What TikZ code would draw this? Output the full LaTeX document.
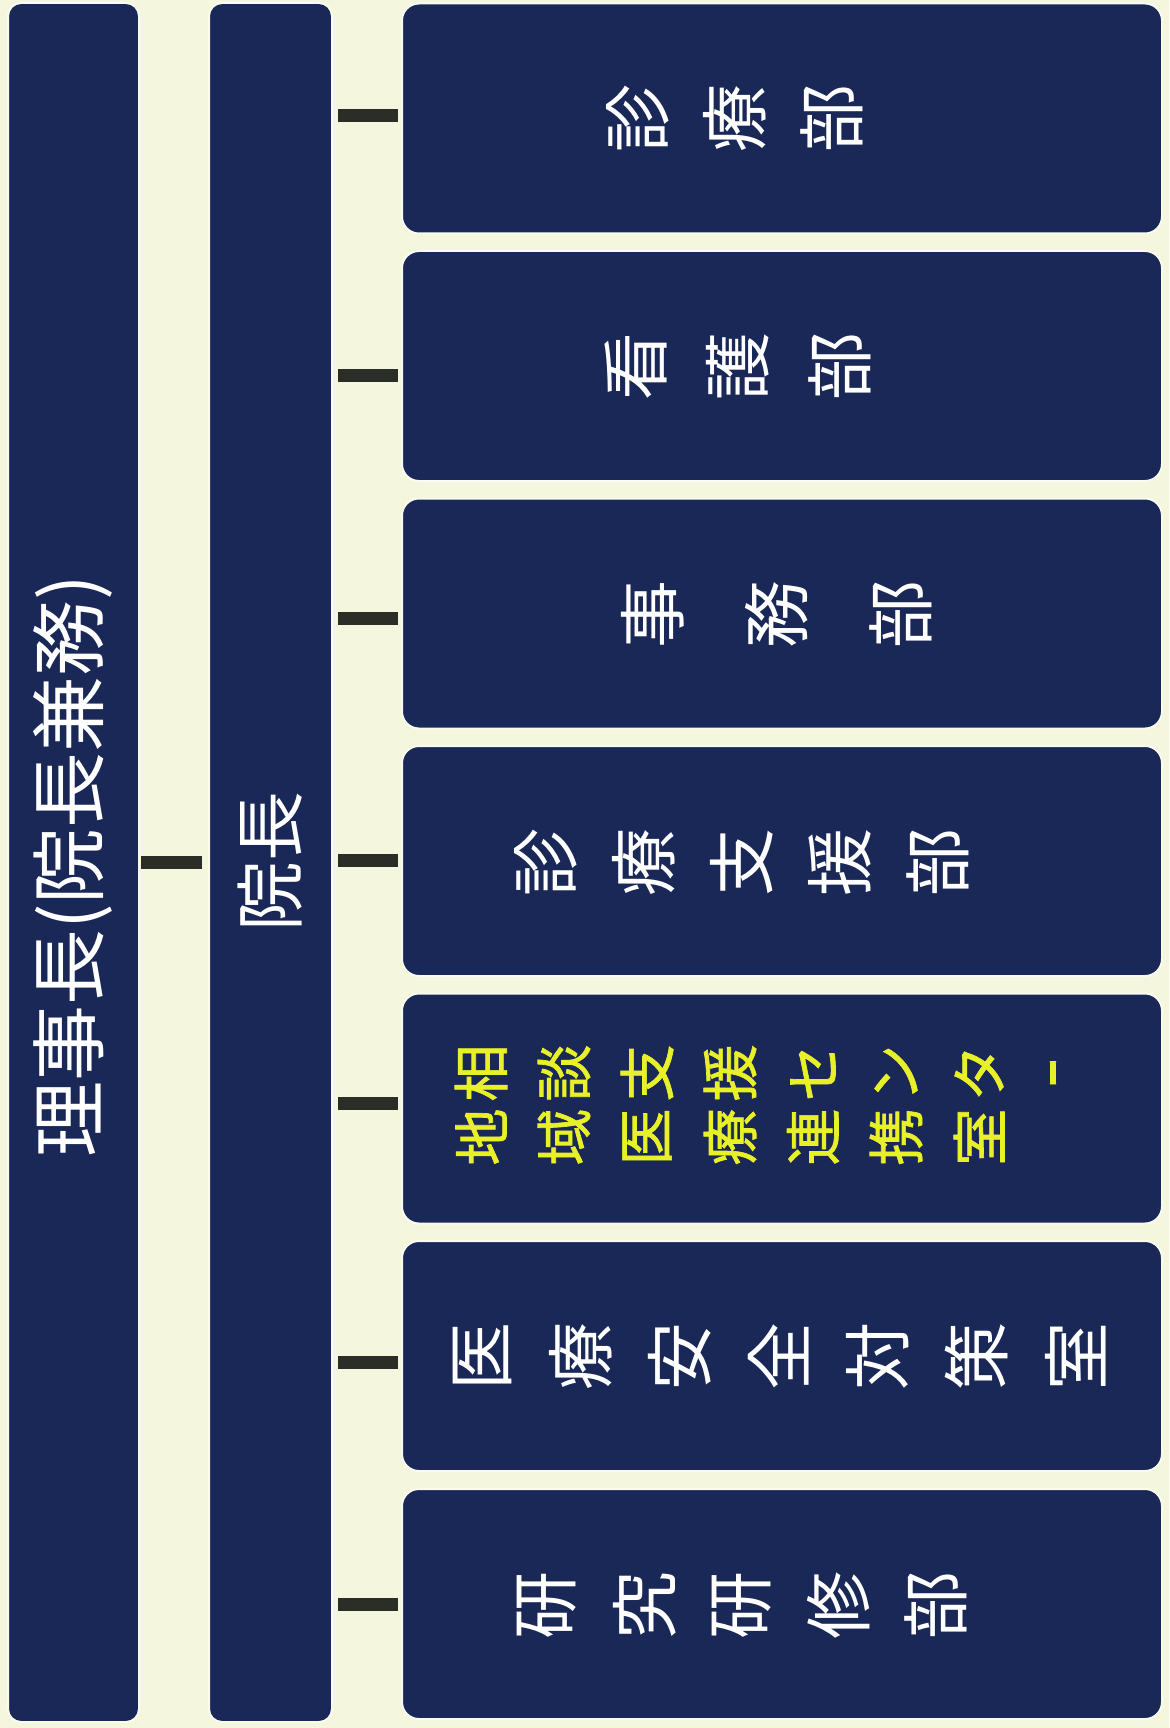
\documentclass[tikz,border=0pt]{standalone}
\usepackage{fontspec}
\setmainfont{Noto Sans CJK JP}
\newfontfamily\yfont[FakeBold=1.2]{Noto Sans CJK JP}
\usepackage{tikz}
\usetikzlibrary{calc}
\definecolor{navy}{RGB}{26,40,88}
\definecolor{cream}{RGB}{244,247,222}
\definecolor{halo}{RGB}{250,251,240}
\definecolor{linkgray}{RGB}{42,46,38}
\definecolor{txtyellow}{RGB}{232,240,40}

\begin{document}
\begin{tikzpicture}[x=1pt,y=-1pt,
		bar/.style={fill=navy,draw=halo,line width=2pt,rounded corners=13pt,inner sep=0pt,minimum height=1719pt},
		dept/.style={fill=navy,draw=halo,line width=2pt,rounded corners=17pt,inner sep=0pt,minimum width=760pt,minimum height=230pt},
		link/.style={draw=linkgray,line width=13pt},
		big/.style={text=white,rotate=90,inner sep=0pt,font=\fontsize{70}{84}\selectfont},
		chr/.style={text=white,rotate=90,inner sep=0pt,font=\fontsize{68}{80}\selectfont},
		ychr/.style={text=txtyellow,rotate=90,inner sep=0pt,font=\fontsize{57}{64}\yfont}]
		\fill[cream] (0,0) rectangle (1169,1728);
		\useasboundingbox (0,0) rectangle (1169,1728);
		
		% the two long bars
		\node[bar,minimum width=131pt] (rijicho) at (73.5,862.5) {};
		\node[bar,minimum width=123pt] (inchou) at (270.5,862.5) {};
		\node[big,font=\fontsize{76}{90}\selectfont] (rijicho-t) at (73,866) {理事長(院長兼務)};
		\node[big] (inchou-t) at (270,861) {院長};
		\draw[link,shorten <=1pt,shorten >=6pt] (rijicho) -- (inchou);
		
		% departments
		\foreach \nm/\yy in {shinryo/118.5,kango/366,jimu/613.5,shien/861,chiiki/1108.5,anzen/1356,kenkyu/1604}
			\node[dept] (\nm) at (782,\yy) {};
		
		\foreach \nm/\dy in {shinryo/-2.5,kango/9.5,jimu/4.5,shien/-1,chiiki/-5.5,anzen/6,kenkyu/0}{
			\coordinate (e\nm) at ($(\nm.west)+(0,\dy)$);
			\draw[link,shorten <=5pt,shorten >=3pt] (inchou.east |- e\nm) -- (e\nm);
		}
		
		\foreach \c [count=\i from 0] in {診,療,部}
			\node[chr] (shinryo-\i) at (638+97*\i,118.5) {\c};
		\foreach \c [count=\i from 0] in {看,護,部}
			\node[chr] (kango-\i) at (636+102*\i,366) {\c};
		\foreach \c [count=\i from 0] in {事,務,部}
			\node[chr] (jimu-\i) at (653+124*\i,614) {\c};
		\foreach \c [count=\i from 0] in {診,療,支,援,部}
			\node[chr] (shien-\i) at (546+98*\i,862) {\c};
		\foreach \c [count=\i from 0] in {相,談,支,援,セ,ン,タ,ｰ}
			\node[ychr] (soudan-\i) at (481+83*\i,1073) {\c};
		\foreach \c [count=\i from 0] in {地,域,医,療,連,携,室}
			\node[ychr] (chiiki-\i) at (481+83*\i,1137) {\c};
		\foreach \c [count=\i from 0] in {医,療,安,全,対,策,室}
			\node[chr] (anzen-\i) at (482+99*\i,1356) {\c};
		\foreach \c [count=\i from 0] in {研,究,研,修,部}
			\node[chr] (kenkyu-\i) at (547+97.3*\i,1605) {\c};
	\end{tikzpicture}
\end{document}
